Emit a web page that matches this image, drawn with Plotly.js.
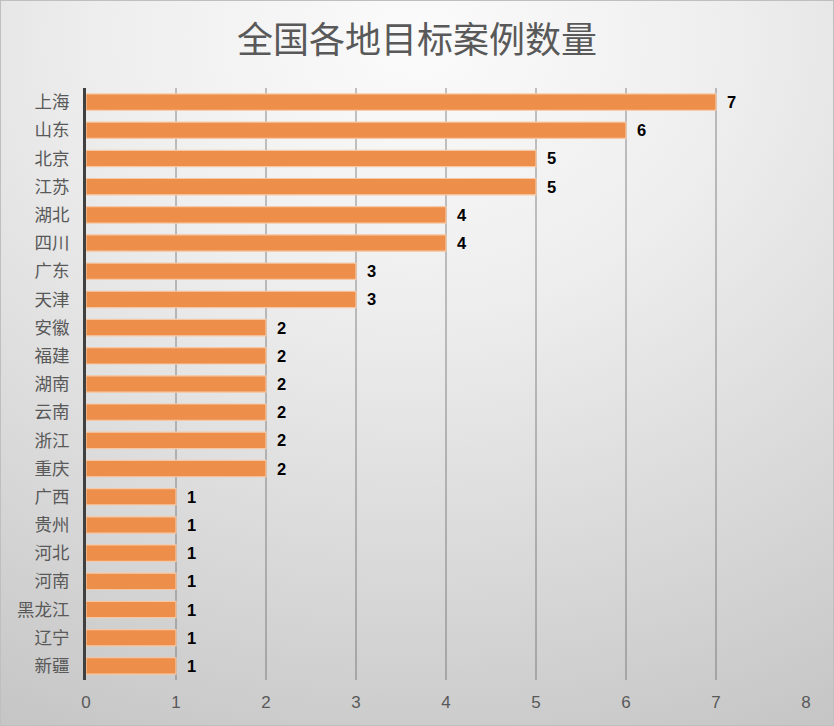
<!DOCTYPE html>
<html>
<head>
<meta charset="utf-8">
<script src="https://cdn.plot.ly/plotly-3.0.1.min.js"></script>
<style>
html,body{margin:0;padding:0;}
#wrap{width:832px;height:724px;border:1px solid #bfbfbf;
background:radial-gradient(ellipse 900px 760px at 50% 5%, #fbfbfb 0%, #eeeeee 35%, #d6d6d6 75%, #c6c6c6 100%);}
#chart{width:832px;height:724px;}
</style>
</head>
<body>
<div id="wrap"><div id="chart"></div></div>
<script>
const regions = ["上海","山东","北京","江苏","湖北","四川","广东","天津","安徽","福建","湖南","云南","浙江","重庆","广西","贵州","河北","河南","黑龙江","辽宁","新疆"];
const counts = [7,6,5,5,4,4,3,3,2,2,2,2,2,2,1,1,1,1,1,1,1];
const xTicks = [0,1,2,3,4,5,6,7,8];

const trace = {
  type:'bar', orientation:'h',
  x: counts, y: regions,
  marker:{color:'#ED8E4B', line:{color:'#F6C9A6', width:1.2}},
  hoverinfo:'skip'
};
const annotations = regions.map((r,i)=>({
  x: counts[i], y: r, xref:'x', yref:'y', text: String(counts[i]),
  showarrow:false, xanchor:'left', xshift:9,
  font:{family:'Liberation Sans, Arial, sans-serif', size:16.5, color:'#000000', weight:'bold'}
}));
const layout = {
  width:832, height:724,
  paper_bgcolor:'rgba(0,0,0,0)', plot_bgcolor:'rgba(0,0,0,0)',
  margin:{l:85, r:27, t:87, b:45},
  title:{text:'全国各地目标案例数量', x:0.5, xanchor:'center', y:0.945, yanchor:'middle',
    font:{family:'Noto Sans CJK SC, sans-serif', size:36, color:'#595959'}},
  bargap:0.42,
  showlegend:false,
  xaxis:{range:[0,8], tickvals:xTicks, showgrid:true, gridcolor:'rgba(90,90,90,0.35)', gridwidth:2,
    zeroline:false, showline:false, ticks:'', ticklen:0, ticklabelstandoff:10,
    tickfont:{family:'Liberation Sans, Arial, sans-serif', size:17, color:'#595959'}},
  yaxis:{type:'category', autorange:'reversed', showgrid:false, zeroline:false,
    showline:true, linecolor:'#404040', linewidth:3, ticks:'', ticklabelstandoff:10,
    tickfont:{family:'Noto Sans CJK SC, sans-serif', size:17.5, color:'#595959'}},
  annotations: annotations
};
Plotly.newPlot('chart',[trace],layout,{displayModeBar:false,staticPlot:true});
</script>
</body>
</html>
